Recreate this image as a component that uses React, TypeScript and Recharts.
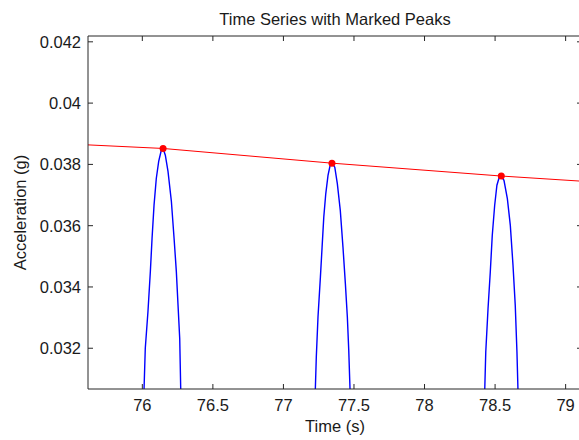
import React from 'react';
import { ComposedChart, Line, XAxis, YAxis } from 'recharts';

// Blue signal samples around each peak (time in s, acceleration in g)
const peak1Time = [76.005, 76.012, 76.021, 76.04, 76.057, 76.069, 76.083, 76.099, 76.116, 76.135, 76.147, 76.163, 76.182, 76.206, 76.225, 76.241, 76.253, 76.265, 76.272, 76.277];
const peak1Accel = [0.0296, 0.03064, 0.032, 0.0332, 0.03451, 0.03559, 0.03667, 0.03754, 0.0381, 0.03847, 0.03852, 0.0383, 0.03777, 0.03679, 0.03559, 0.03451, 0.03341, 0.03232, 0.03069, 0.0296];
const peak2Time = [77.219, 77.226, 77.233, 77.245, 77.262, 77.274, 77.286, 77.3, 77.316, 77.331, 77.344, 77.364, 77.382, 77.403, 77.422, 77.439, 77.453, 77.463, 77.472, 77.479];
const peak2Accel = [0.0296, 0.03065, 0.03171, 0.03302, 0.03432, 0.0353, 0.03628, 0.03704, 0.03764, 0.03797, 0.03804, 0.03791, 0.03737, 0.0365, 0.0353, 0.03411, 0.03302, 0.03193, 0.03065, 0.0296];
const peak3Time = [78.421, 78.427, 78.434, 78.45, 78.466, 78.48, 78.497, 78.513, 78.53, 78.544, 78.563, 78.587, 78.608, 78.627, 78.643, 78.655, 78.662, 78.668];
const peak3Accel = [0.0296, 0.03068, 0.03188, 0.03329, 0.03449, 0.03568, 0.03666, 0.03732, 0.03759, 0.03762, 0.03748, 0.03688, 0.03601, 0.03471, 0.0334, 0.03188, 0.03068, 0.0296];

// Marked peaks
const peakTimes = [76.147, 77.344, 78.544];
const peakValues = [0.03852, 0.03804, 0.03762];

// Red envelope line
const envTime = [75.6, 76.147, 77.344, 78.544, 79.12];
const envValue = [0.03864, 0.03852, 0.03804, 0.03762, 0.03745];

const xTicks = [76, 76.5, 77, 77.5, 78, 78.5, 79];
const yTicks = [0.032, 0.034, 0.036, 0.038, 0.04, 0.042];
const xDomain: [number, number] = [75.615, 79.116];
const yDomain: [number, number] = [0.03067, 0.04219];

const zip = (ts: number[], vs: number[]) => ts.map((t, i) => ({ t, v: vs[i] }));
const signalData = [
  ...zip(peak1Time, peak1Accel),
  ...zip(peak2Time, peak2Accel),
  ...zip(peak3Time, peak3Accel),
];
const peakData = zip(peakTimes, peakValues);
const envData = zip(envTime, envValue);

const FONT = '"Liberation Sans", Arial, Helvetica, sans-serif';
const FS = 16.5;
const TXT = '#1a1a1a';
const AX = '#262626';

export default function App() {
  return (
    <div style={{ position: 'absolute', left: 0, top: 0, width: 579, height: 440, background: '#fff', fontFamily: FONT }}>
      <ComposedChart width={579} height={440} margin={{ top: 35, right: -4, bottom: 0, left: 0 }}>
        <XAxis
          dataKey="t"
          type="number"
          domain={xDomain}
          allowDataOverflow
          ticks={xTicks}
          height={51}
          tickSize={-5}
          tickMargin={15}
          axisLine={{ stroke: AX }}
          tickLine={{ stroke: AX }}
          tick={{ fill: TXT, fontSize: FS, fontFamily: FONT }}
          label={{ value: 'Time (s)', position: 'insideBottom', offset: 8, fill: TXT, fontSize: FS, fontFamily: FONT }}
        />
        <XAxis
          xAxisId="top"
          orientation="top"
          dataKey="t"
          type="number"
          domain={xDomain}
          allowDataOverflow
          ticks={xTicks}
          height={1}
          tickSize={-5}
          tickFormatter={() => ''}
          axisLine={{ stroke: AX }}
          tickLine={{ stroke: AX }}
        />
        <YAxis
          type="number"
          domain={yDomain}
          allowDataOverflow
          ticks={yTicks}
          width={88}
          tickSize={-5}
          tickMargin={12}
          axisLine={{ stroke: AX }}
          tickLine={{ stroke: AX }}
          tick={{ fill: TXT, fontSize: FS, fontFamily: FONT }}
          label={{ value: 'Acceleration (g)', angle: -90, position: 'insideLeft', offset: 20.5, fill: TXT, fontSize: FS, fontFamily: FONT, style: { textAnchor: 'middle' } }}
        />
        <YAxis
          yAxisId="right"
          orientation="right"
          type="number"
          domain={yDomain}
          allowDataOverflow
          ticks={yTicks}
          width={1}
          tickSize={-5}
          tickFormatter={() => ''}
          axisLine={{ stroke: AX }}
          tickLine={{ stroke: AX }}
        />
        <Line data={signalData} dataKey="v" type="linear" stroke="#0000ff" strokeWidth={1.4} dot={false} isAnimationActive={false} />
        <Line data={envData} dataKey="v" type="linear" stroke="#ff0000" strokeWidth={1} dot={false} isAnimationActive={false} />
        <Line
          data={peakData}
          dataKey="v"
          type="linear"
          stroke="none"
          dot={{ r: 3.5, fill: '#ff0000', stroke: '#ff0000', strokeWidth: 0 }}
          isAnimationActive={false}
        />
      </ComposedChart>
      <svg width={579} height={440} style={{ position: 'absolute', left: 0, top: 0, pointerEvents: 'none' }}>
        <text x={335} y={25} textAnchor="middle" fill={TXT} fontSize={FS} fontFamily={FONT}>
          Time Series with Marked Peaks
        </text>
      </svg>
    </div>
  );
}
